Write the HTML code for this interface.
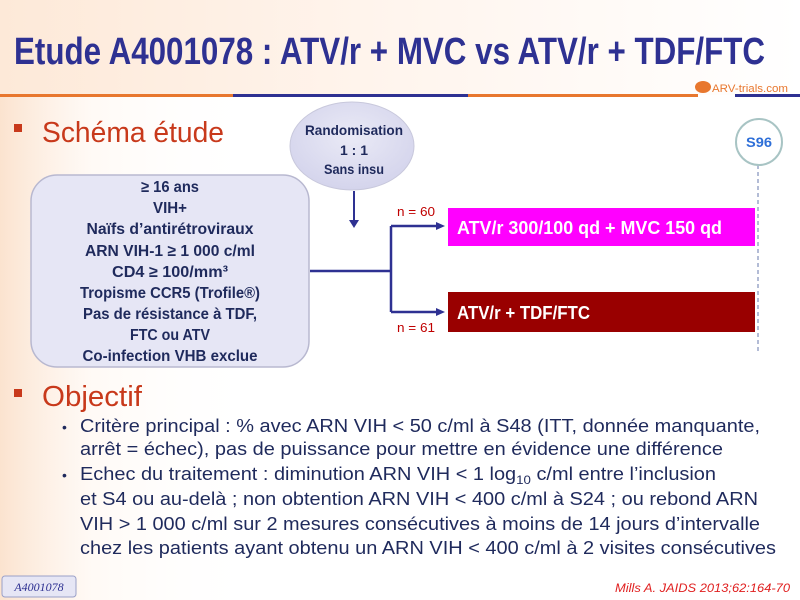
<!DOCTYPE html>
<html><head><meta charset="utf-8"><style>
html,body{margin:0;padding:0;}
body{width:800px;height:600px;overflow:hidden;position:relative;background:#fff;font-family:"Liberation Sans",sans-serif;}
</style></head><body>
<svg width="800" height="600" viewBox="0 0 800 600" xmlns="http://www.w3.org/2000/svg" style="position:absolute;left:0;top:0">
<defs>
<linearGradient id="bgt" x1="0" y1="0" x2="1" y2="0">
<stop offset="0" stop-color="#fde9d8"/><stop offset="0.45" stop-color="#fff4ec"/><stop offset="1" stop-color="#ffffff"/>
</linearGradient>
<linearGradient id="bgl" x1="0" y1="0" x2="1" y2="0">
<stop offset="0" stop-color="#fbe3cf"/><stop offset="0.35" stop-color="#fff6ef" stop-opacity="0.6"/><stop offset="1" stop-color="#ffffff" stop-opacity="0"/>
</linearGradient>
<radialGradient id="circ" cx="0.5" cy="0.4" r="0.6">
<stop offset="0" stop-color="#eaeaf6"/><stop offset="1" stop-color="#d4d4ec"/>
</radialGradient>
</defs>
<rect width="800" height="600" fill="#fff"/>
<rect width="800" height="95" fill="url(#bgt)"/>
<rect y="95" width="260" height="505" fill="url(#bgl)"/>
<text x="14" y="64" font-size="38" font-weight="bold" fill="#2e3192" textLength="751" lengthAdjust="spacingAndGlyphs">Etude A4001078 : ATV/r + MVC vs ATV/r + TDF/FTC</text>
<rect x="0" y="94" width="233" height="3" fill="#e8772e"/>
<rect x="233" y="94" width="235" height="3" fill="#2e3192"/>
<rect x="468" y="94" width="230" height="3" fill="#e8772e"/>
<rect x="735" y="94" width="65" height="3" fill="#2e3192"/>
<ellipse cx="703" cy="87" rx="8" ry="6" fill="#e8772e"/>
<text x="712" y="92" font-size="11" fill="#e8772e" textLength="76" lengthAdjust="spacingAndGlyphs">ARV-trials.com</text>
<rect x="14" y="124" width="8" height="8" fill="#c8391b"/>
<text x="42" y="142" font-size="29" fill="#c8391b" textLength="182" lengthAdjust="spacingAndGlyphs">Schéma étude</text>
<ellipse cx="352" cy="146" rx="62" ry="44" fill="url(#circ)" stroke="#c8c8dc"/>
<g font-size="14" font-weight="bold" fill="#1f2a5c" text-anchor="middle">
<text x="354" y="135" textLength="98" lengthAdjust="spacingAndGlyphs">Randomisation</text>
<text x="354" y="155">1 : 1</text>
<text x="354" y="174" textLength="60" lengthAdjust="spacingAndGlyphs">Sans insu</text>
</g>
<line x1="354" y1="191" x2="354" y2="222" stroke="#2e3192" stroke-width="2"/>
<polygon points="349,220 359,220 354,228" fill="#2e3192"/>
<rect x="31" y="175" width="278" height="192" rx="26" fill="#e6e6f5" stroke="#b8b8d0" stroke-width="1.5"/>
<g font-size="16" font-weight="bold" fill="#1f2a5c" text-anchor="middle">
<text x="170" y="192" textLength="58" lengthAdjust="spacingAndGlyphs">≥ 16 ans</text>
<text x="170" y="213" textLength="34" lengthAdjust="spacingAndGlyphs">VIH+</text>
<text x="170" y="234" textLength="167" lengthAdjust="spacingAndGlyphs">Naïfs d’antirétroviraux</text>
<text x="170" y="256" textLength="170" lengthAdjust="spacingAndGlyphs">ARN VIH-1 ≥ 1 000 c/ml</text>
<text x="170" y="277" textLength="116" lengthAdjust="spacingAndGlyphs">CD4 ≥ 100/mm³</text>
<text x="170" y="298" textLength="180" lengthAdjust="spacingAndGlyphs">Tropisme CCR5 (Trofile®)</text>
<text x="170" y="319" textLength="174" lengthAdjust="spacingAndGlyphs">Pas de résistance à TDF,</text>
<text x="170" y="340" textLength="80" lengthAdjust="spacingAndGlyphs">FTC ou ATV</text>
<text x="170" y="361" textLength="175" lengthAdjust="spacingAndGlyphs">Co-infection VHB exclue</text>
</g>
<g stroke="#2e3192" stroke-width="2.5" fill="none">
<line x1="310" y1="271" x2="391" y2="271"/>
<line x1="391" y1="226" x2="391" y2="312"/>
<line x1="391" y1="226" x2="438" y2="226"/>
<line x1="391" y1="312" x2="438" y2="312"/>
</g>
<polygon points="436,222 445,226 436,230" fill="#2e3192"/>
<polygon points="436,308 445,312 436,316" fill="#2e3192"/>
<text x="397" y="216" font-size="13" fill="#c00000" textLength="38" lengthAdjust="spacingAndGlyphs">n = 60</text>
<text x="397" y="332" font-size="13" fill="#c00000" textLength="38" lengthAdjust="spacingAndGlyphs">n = 61</text>
<rect x="448" y="208" width="307" height="38" fill="#ff00ff"/>
<text x="457" y="234" font-size="18" font-weight="bold" fill="#fff" textLength="265" lengthAdjust="spacingAndGlyphs">ATV/r 300/100 qd + MVC 150 qd</text>
<rect x="448" y="292" width="307" height="40" fill="#990000"/>
<text x="457" y="319" font-size="18" font-weight="bold" fill="#fff" textLength="133" lengthAdjust="spacingAndGlyphs">ATV/r + TDF/FTC</text>
<line x1="758" y1="165" x2="758" y2="352" stroke="#9aa6c8" stroke-width="1.5" stroke-dasharray="4,3"/>
<circle cx="759" cy="142" r="23" fill="#fff" stroke="#a8c4c4" stroke-width="2"/>
<text x="759" y="147" font-size="14" font-weight="bold" fill="#2e6fd8" text-anchor="middle" textLength="26" lengthAdjust="spacingAndGlyphs">S96</text>
<rect x="14" y="389" width="8" height="8" fill="#c8391b"/>
<text x="42" y="406" font-size="29" fill="#c8391b" textLength="100" lengthAdjust="spacingAndGlyphs">Objectif</text>
<g font-size="18" fill="#1f2a5c">
<text x="62" y="432" font-size="14">•</text>
<text x="80" y="432" textLength="680" lengthAdjust="spacingAndGlyphs">Critère principal : % avec ARN VIH &lt; 50 c/ml à S48 (ITT, donnée manquante,</text>
<text x="80" y="455" textLength="643" lengthAdjust="spacingAndGlyphs">arrêt = échec), pas de puissance pour mettre en évidence une différence</text>
<text x="62" y="480" font-size="14">•</text>
<text x="80" y="480" textLength="636" lengthAdjust="spacingAndGlyphs">Echec du traitement : diminution ARN VIH &lt; 1 log<tspan font-size="12" dy="4">10</tspan><tspan dy="-4"> c/ml entre l’inclusion</tspan></text>
<text x="80" y="505" textLength="678" lengthAdjust="spacingAndGlyphs">et S4 ou au-delà ; non obtention ARN VIH &lt; 400 c/ml à S24 ; ou rebond ARN</text>
<text x="80" y="530" textLength="680" lengthAdjust="spacingAndGlyphs">VIH &gt; 1 000 c/ml sur 2 mesures consécutives à moins de 14 jours d’intervalle</text>
<text x="80" y="554" textLength="696" lengthAdjust="spacingAndGlyphs">chez les patients ayant obtenu un ARN VIH &lt; 400 c/ml à 2 visites consécutives</text>
</g>
<rect x="2" y="576" width="74" height="21" rx="3" fill="#e6e6f5" stroke="#9aa0c8"/>
<text x="39" y="591" font-size="12" font-style="italic" fill="#2e3192" text-anchor="middle" font-family="Liberation Serif">A4001078</text>
<text x="790" y="592" font-size="12" font-style="italic" fill="#e02020" text-anchor="end" textLength="175" lengthAdjust="spacingAndGlyphs">Mills A. JAIDS 2013;62:164-70</text>
</svg>
</body></html>
